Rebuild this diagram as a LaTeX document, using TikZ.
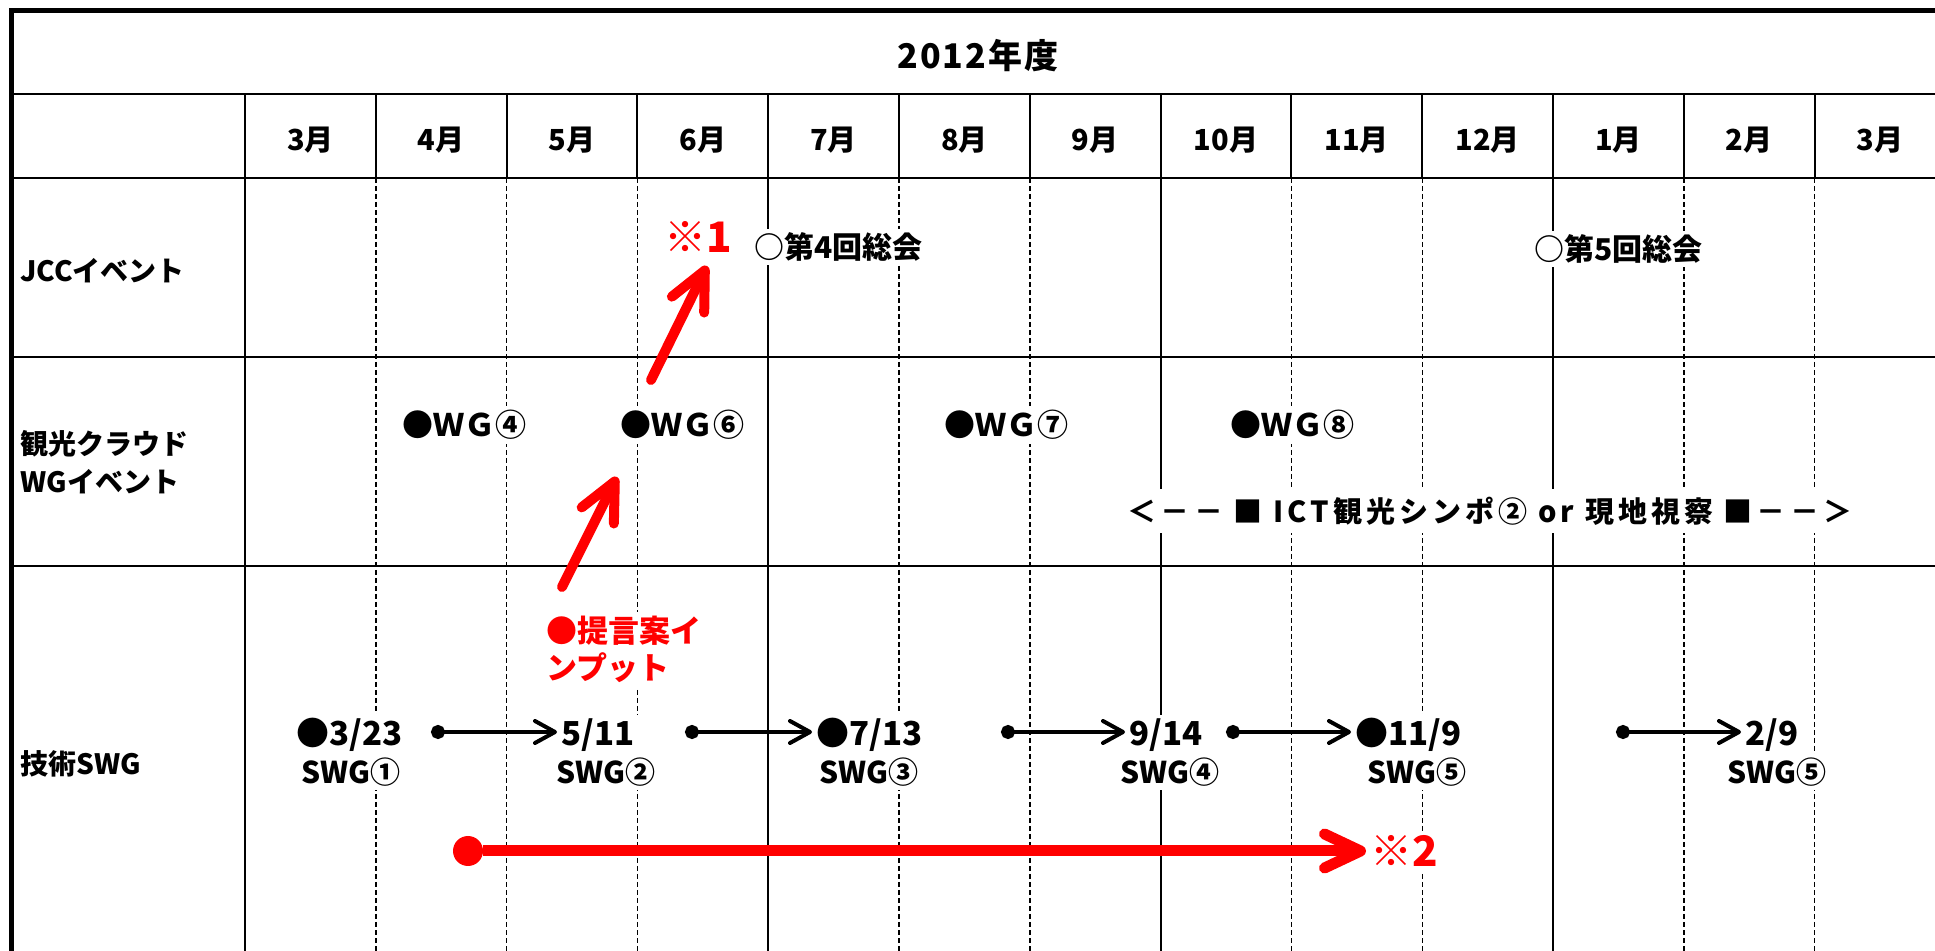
\documentclass[tikz,border=0pt]{standalone}
\usepackage{fontspec}
\setmainfont{Noto Sans CJK JP}
\newfontfamily\widefont{Noto Sans CJK JP}[LetterSpace=6]
\newfontfamily\spreadfont{Noto Sans CJK JP}[LetterSpace=14]
\usepackage{xcolor}
\usetikzlibrary{arrows.meta}
\definecolor{note_red}{HTML}{FF0000}

\begin{document}
\begin{tikzpicture}[x=0.5pt, y=-0.5pt,
    cell/.style={font=\bfseries\fontsize{14}{19}\selectfont, inner sep=2pt},
    event/.style={cell, fill=white},
    datebox/.style={event, font=\bfseries\fontsize{16.5}{19}\selectfont},
    swgbox/.style={event, font=\bfseries\fontsize{15}{19}\selectfont},
    wgevent/.style={event, font=\bfseries\fontsize{15.5}{19}\selectfont},
    remark/.style={text=note_red, fill=white, inner sep=2pt, font=\bfseries\fontsize{21}{25}\selectfont},
    rule/.style={line width=1pt},
    subrule/.style={line width=0.7pt, dash pattern=on 2.5pt off 1.5pt},
    plan/.style={draw, line width=2pt, {Circle[length=7pt]}-{Straight Barb[length=10pt, width=11pt, round]}},
    period/.style={draw=note_red, line width=5.5pt, -{Straight Barb[length=18pt, width=17pt, round]}},
    hint/.style={draw=note_red, line width=5pt, line cap=round, -{Straight Barb[length=19pt, width=18pt, round]},
      preaction={draw=black, opacity=.25, transform canvas={shift={(1.5pt,-1.5pt)}}}}]
      \useasboundingbox (0,0) rectangle (1935,951);

      % table
      \draw[line width=2.5pt] (11,951) -- (11,11) -- (1935,11);
      \foreach \y in {94,178,357,566} \draw[rule] (11,\y) -- (1935,\y);
      \draw[rule] (245,94) -- (245,951);
      \foreach \k in {1,...,12} \draw[rule] ({245+130.8*\k},94) -- ({245+130.8*\k},178);
      \foreach \k in {4,7,10} \draw[rule] ({245+130.8*\k},178) -- ({245+130.8*\k},951);
      \foreach \k in {1,2,3,5,6,8,9,11,12} \draw[subrule] ({245+130.8*\k},178) -- ({245+130.8*\k},951);

      \node[cell, font=\widefont\bfseries\fontsize{17}{19}\selectfont] (title) at (978,56) {2012年度};
      \foreach \m [count=\i] in {3,4,5,6,7,8,9,10,11,12,1,2,3}
        \node[cell, font=\bfseries\fontsize{14.5}{17}\selectfont] (month\i) at ({245+130.8*(\i-0.5)},140) {\m 月};

      \node[cell, anchor=west] (jcc) at (16,271) {JCCイベント};
      \node[cell, anchor=west, align=left] (wgrow) at (16,462) {観光クラウド\\WGイベント};
      \node[cell, anchor=west] (swgrow) at (16,764) {技術SWG};

      % JCC / WG
      \node[remark] (note1) at (698,237) {※1};
      \node[event, font=\bfseries\fontsize{15}{19}\selectfont, anchor=west] (meet4) at (750,247) {○第4回総会};
      \node[event, font=\bfseries\fontsize{15}{19}\selectfont, anchor=west] (meet5) at (1530,249) {○第5回総会};

      \node[wgevent, anchor=west] (wg4) at (398,425) {●ＷＧ④};
      \node[wgevent, anchor=west] (wg6) at (616,425) {●ＷＧ⑥};
      \node[wgevent, anchor=west] (wg7) at (940,425) {●ＷＧ⑦};
      \node[wgevent, anchor=west] (wg8) at (1226,425) {●ＷＧ⑧};
      \node[event, font=\spreadfont\bfseries\fontsize{14.5}{19}\selectfont, inner ysep=4pt] (sympo) at (1490,511) {＜－－ ■ ICT観光シンポ② or 現地視察 ■－－＞};

      % SWG
      \node[event, anchor=north west, text=note_red, align=left, font=\bfseries\fontsize{15.5}{18.5}\selectfont] (input) at (542,612) {●提言案イ\\ンプット};

      \node[datebox, anchor=west] (date1) at (292,735) {●3/23};
      \node[swgbox] (swg1) at (351,772) {SWG①};
      \node[datebox, anchor=west] (date2) at (557,735) {5/11};
      \node[swgbox] (swg2) at (606,772) {SWG②};
      \node[datebox, anchor=west] (date3) at (812,735) {●7/13};
      \node[swgbox] (swg3) at (869,772) {SWG③};
      \node[datebox, anchor=west] (date4) at (1125,735) {9/14};
      \node[swgbox] (swg4) at (1170,772) {SWG④};
      \node[datebox, anchor=west] (date5) at (1351,735) {●11/9};
      \node[swgbox] (swg5) at (1417,772) {SWG⑤};
      \node[datebox, anchor=west] (date6) at (1741,735) {2/9};
      \node[swgbox] (swg6) at (1777,772) {SWG⑤};

      \coordinate (from1) at (431,732);
      \coordinate (from2) at (685,732);
      \coordinate (from3) at (1001,732);
      \coordinate (from4) at (1226,732);
      \coordinate (from5) at (1616,732);
      \draw[plan] (from1) -- (from1 -| date2.west);
      \draw[plan] (from2) -- (from2 -| date3.west);
      \draw[plan] (from3) -- (from3 -| date4.west);
      \draw[plan] (from4) -- (from4 -| date5.west);
      \draw[plan] (from5) -- (from5 -| date6.west);

      \node[circle, fill=note_red, minimum size=15pt, inner sep=0pt] (start2) at (468,851) {};
      \node[remark, anchor=west] (note2) at (1366,851) {※2};
      \draw[period] (start2) -- (note2);

      \coordinate (tail1) at (651,380);
      \coordinate (head1) at (707,266);
      \coordinate (tail2) at (562,587);
      \coordinate (head2) at (617,477);
      \draw[hint] (tail2) -- (head2);
      \draw[hint] (tail1) -- (head1);

    \end{tikzpicture}
\end{document}
